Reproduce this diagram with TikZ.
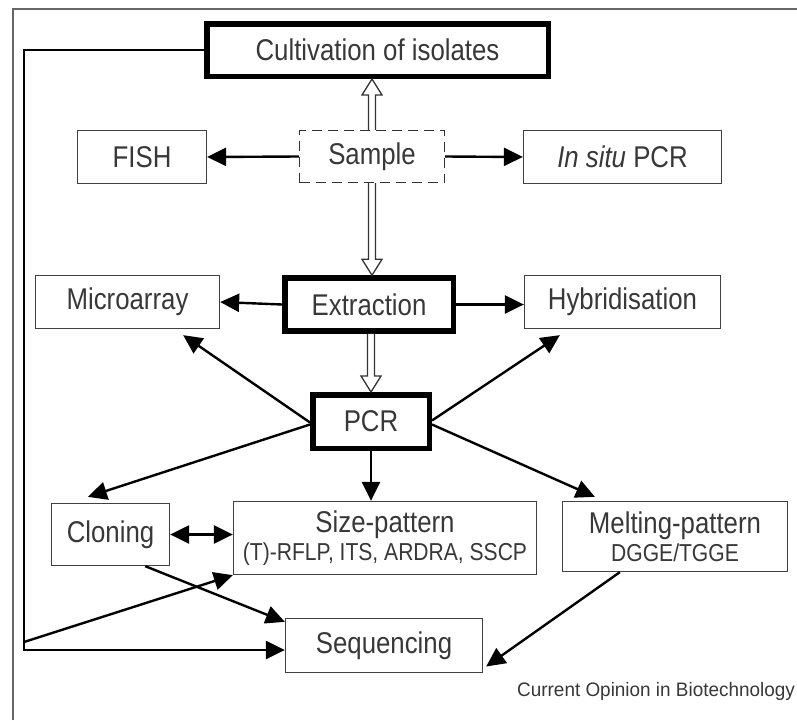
\documentclass[tikz,border=0pt]{standalone}
\usepackage{fontspec}
\setmainfont[FakeStretch=0.86]{Liberation Sans}
\newfontfamily\capfont[FakeStretch=0.97]{Liberation Sans}
\usetikzlibrary{arrows.meta,calc}
\tikzset{
  box/.style={draw=black!75, line width=1.3pt, rectangle, inner sep=0pt, text=black!78,
    font=\fontsize{30}{32}\selectfont, align=center},
  thickbox/.style={box, draw=black, line width=5.5pt},
  dashbox/.style={box, draw=black!80, dash pattern=on 10pt off 6pt},
  conn/.style={draw=black, line width=2.4pt},
  arr/.style={conn, -{Triangle[length=19pt,width=18pt]}},
  darr/.style={conn, {Triangle[length=19pt,width=18pt]}-{Triangle[length=19pt,width=18pt]}},
  hollow/.style={draw=black!80, line width=1.3pt, fill=white, line join=miter},
  frame/.style={draw=black!60, line width=1.5pt},
}
\newcommand{\hollowarr}[3]{%
  \draw[hollow] let \p1=(#1), \p2=(#2), \n1={#3*16pt} in
    ({\x1-3.5pt},\y1) -- ({\x1-3.5pt},{\y2-\n1}) -- ({\x1-10pt},{\y2-\n1}) -- (\x1,\y2)
    -- ({\x1+10pt},{\y2-\n1}) -- ({\x1+3.5pt},{\y2-\n1}) -- ({\x1+3.5pt},\y1);}
\begin{document}
\begin{tikzpicture}[x=1pt,y=-1pt]
\useasboundingbox (0,0) rectangle (797,720);
\fill[white] (0,0) rectangle (797,720);
\draw[frame] (13,720) -- (13,9) -- (797,9);

\node[thickbox, minimum width=341.5pt, minimum height=52.5pt] (cult) at (377.5,50) {Cultivation of isolates};
\node[box, minimum width=129pt, minimum height=53pt] (fish) at (142,157) {FISH};
\node[dashbox, minimum width=145pt, minimum height=52pt] (sample) at (372,156.5) {Sample};
\node[box, minimum width=198pt, minimum height=53pt] (insitu) at (622.5,157) {\textit{In situ} PCR};
\node[box, minimum width=184pt, minimum height=53pt] (micro) at (127.5,302) {Microarray};
\node[thickbox, minimum width=168.5pt, minimum height=53pt] (extr) at (369,304.5) {Extraction};
\node[box, minimum width=196pt, minimum height=53pt] (hybr) at (622.5,302) {Hybridisation};
\node[thickbox, minimum width=116.5pt, minimum height=53.5pt] (pcr) at (371,421.5) {PCR};
\node[box, minimum width=118pt, minimum height=62pt] (clon) at (110.5,534.5) {Cloning};
\node[box, minimum width=303pt, minimum height=73pt] (size) at (385,538) {Size-pattern\\[-4pt]{\fontsize{24.5}{26}\selectfont (T)-RFLP, ITS, ARDRA, SSCP}};
\node[box, minimum width=225pt, minimum height=70pt] (melt) at (675,536.5) {Melting-pattern\\[-4pt]{\fontsize{24.5}{26}\selectfont DGGE/TGGE}};
\node[box, minimum width=197pt, minimum height=54pt] (seq) at (384,645.5) {Sequencing};
\node[anchor=east, text=black!78, font=\capfont\fontsize{19.5}{21}\selectfont, inner sep=0pt] (cap) at (795,691) {Current Opinion in Biotechnology};

% hollow arrows
\hollowarr{sample.north}{cult.south}{1}
\hollowarr{sample.south}{extr.north}{-1}
\hollowarr{extr.south -| pcr.north}{pcr.north}{-1}

% sample and extraction side arrows
\draw[arr] (sample.west) -- (fish.east);
\draw[arr] (sample.east) -- (insitu.west);
\draw[arr] (extr.west) -- (micro.east);
\draw[arr] (extr.east) -- (extr.east -| hybr.west);

% PCR arrows
\coordinate (pl) at ([yshift=-1pt]pcr.west);
\coordinate (pr) at ([yshift=1pt]pcr.east);
\draw[arr] (pl) -- ([xshift=-37pt,yshift=-6pt]micro.south east);
\draw[arr] (pr) -- ([xshift=36pt,yshift=-6pt]hybr.south west);
\draw[arr] ([yshift=-3pt]pcr.west) -- ([xshift=37pt,yshift=6pt]clon.north west);
\draw[arr] ([yshift=-3pt]pcr.east) -- ([xshift=33pt,yshift=4pt]melt.north west);
\draw[arr] (pcr.south) -- (pcr.south |- size.north);

% bottom
\draw[darr] (clon.east) -- (clon.east -| size.west);
\draw[arr] ([xshift=-25pt]clon.south east) -- ([yshift=-4pt]seq.north west);
\draw[arr] ([xshift=58pt]melt.south west) -- ([xshift=3pt,yshift=-21pt]seq.east);

% left loop
\coordinate (c1) at (24,50);
\coordinate (c2) at (24,650);
\coordinate (c3) at (24,642);
\draw[arr] (cult.west) -- (c1) -- (c2) -- (c2 -| seq.west);
\draw[arr] (c3) -- (size.south west);
\end{tikzpicture}
\end{document}
